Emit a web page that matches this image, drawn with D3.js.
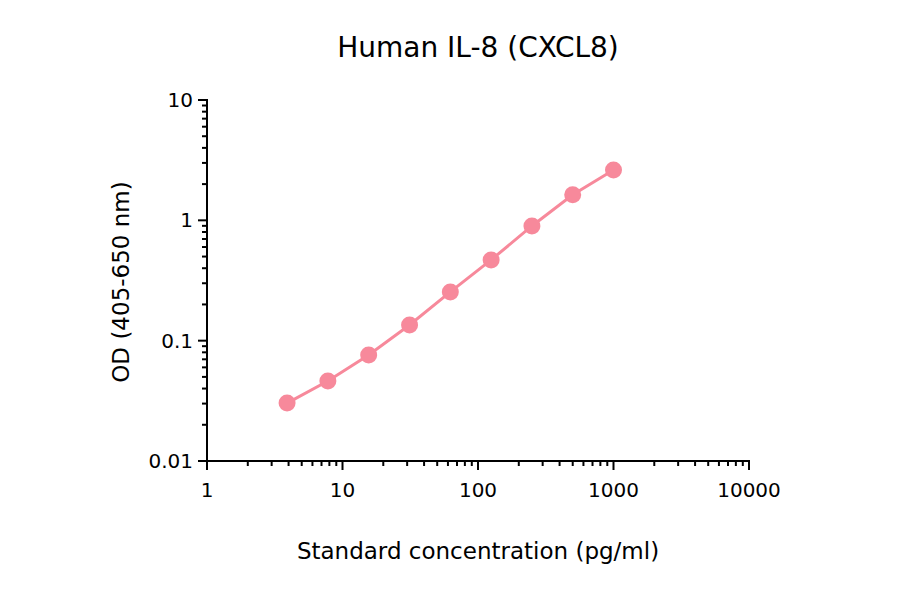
<!DOCTYPE html>
<html>
<head>
<meta charset="utf-8">
<script src="https://cdn.jsdelivr.net/npm/d3@7"></script>
<style>
  body { margin: 0; background: #fff; }
  svg { font-family: "DejaVu Sans", sans-serif; }
</style>
</head>
<body>
<svg id="chart" width="900" height="594"></svg>
<script>
var concentrations = [3.9, 7.8, 15.6, 31.25, 62.5, 125, 250, 500, 1000];
var odValues = [0.0303, 0.0462, 0.076, 0.135, 0.254, 0.469, 0.898, 1.63, 2.62];
var xTickValues = [1, 10, 100, 1000, 10000];
var yTickValues = [0.01, 0.1, 1, 10];

var pink = '#f7899b';

var svg = d3.select('#chart');

var x = d3.scaleLog().domain([1, 10000]).range([207, 749]);
var y = d3.scaleLog().domain([0.01, 10]).range([461, 100]);

// minor ticks
var xMinor = [], yMinor = [];
for (var d = 1; d < 10000; d *= 10)
  for (var k = 2; k < 10; k++) xMinor.push(d * k);
for (var e = 0.01; e < 10; e *= 10)
  for (var k = 2; k < 10; k++) yMinor.push(e * k);

var xAxis = svg.append('g').attr('transform', 'translate(0,461)');
xAxis.append('line')
  .attr('x1', 207).attr('x2', 749)
  .attr('stroke', '#000').attr('stroke-width', 2);
xAxis.selectAll('.minor').data(xMinor).enter().append('line')
  .attr('x1', function (d) { return x(d); })
  .attr('x2', function (d) { return x(d); })
  .attr('y1', 0).attr('y2', 5)
  .attr('stroke', '#000').attr('stroke-width', 2);
xAxis.selectAll('.major').data(xTickValues).enter().append('line')
  .attr('x1', function (d) { return x(d); })
  .attr('x2', function (d) { return x(d); })
  .attr('y1', -1).attr('y2', 9)
  .attr('stroke', '#000').attr('stroke-width', 2);
xAxis.selectAll('text').data(xTickValues).enter().append('text')
  .attr('x', function (d) { return x(d); })
  .attr('y', 36)
  .attr('text-anchor', 'middle')
  .style('font-size', '20px')
  .text(function (d) { return d; });

var yAxis = svg.append('g').attr('transform', 'translate(207,0)');
yAxis.append('line')
  .attr('y1', 100).attr('y2', 462)
  .attr('stroke', '#000').attr('stroke-width', 2);
yAxis.selectAll('.minor').data(yMinor).enter().append('line')
  .attr('y1', function (d) { return y(d); })
  .attr('y2', function (d) { return y(d); })
  .attr('x1', 0).attr('x2', -5)
  .attr('stroke', '#000').attr('stroke-width', 2);
yAxis.selectAll('.major').data(yTickValues).enter().append('line')
  .attr('y1', function (d) { return y(d); })
  .attr('y2', function (d) { return y(d); })
  .attr('x1', 1).attr('x2', -9)
  .attr('stroke', '#000').attr('stroke-width', 2);
yAxis.selectAll('text').data(yTickValues).enter().append('text')
  .attr('x', -14)
  .attr('y', function (d) { return y(d) + 7; })
  .attr('text-anchor', 'end')
  .style('font-size', '20px')
  .text(function (d) { return d; });

var line = d3.line()
  .x(function (d, i) { return x(concentrations[i]); })
  .y(function (d) { return y(d); });

svg.append('path')
  .attr('d', line(odValues))
  .attr('fill', 'none')
  .attr('stroke', pink)
  .attr('stroke-width', 3);

svg.selectAll('circle').data(odValues).enter().append('circle')
  .attr('cx', function (d, i) { return x(concentrations[i]); })
  .attr('cy', function (d) { return y(d); })
  .attr('r', 8.5)
  .attr('fill', pink);

svg.append('text')
  .attr('x', 478).attr('y', 57)
  .attr('text-anchor', 'middle')
  .style('font-size', '28px')
  .text('Human IL-8 (CXCL8)');

svg.append('text')
  .attr('x', 478).attr('y', 559)
  .attr('text-anchor', 'middle')
  .style('font-size', '23px')
  .text('Standard concentration (pg/ml)');

svg.append('text')
  .attr('transform', 'translate(129,282) rotate(-90)')
  .attr('text-anchor', 'middle')
  .style('font-size', '23px')
  .text('OD (405-650 nm)');
</script>
</body>
</html>
